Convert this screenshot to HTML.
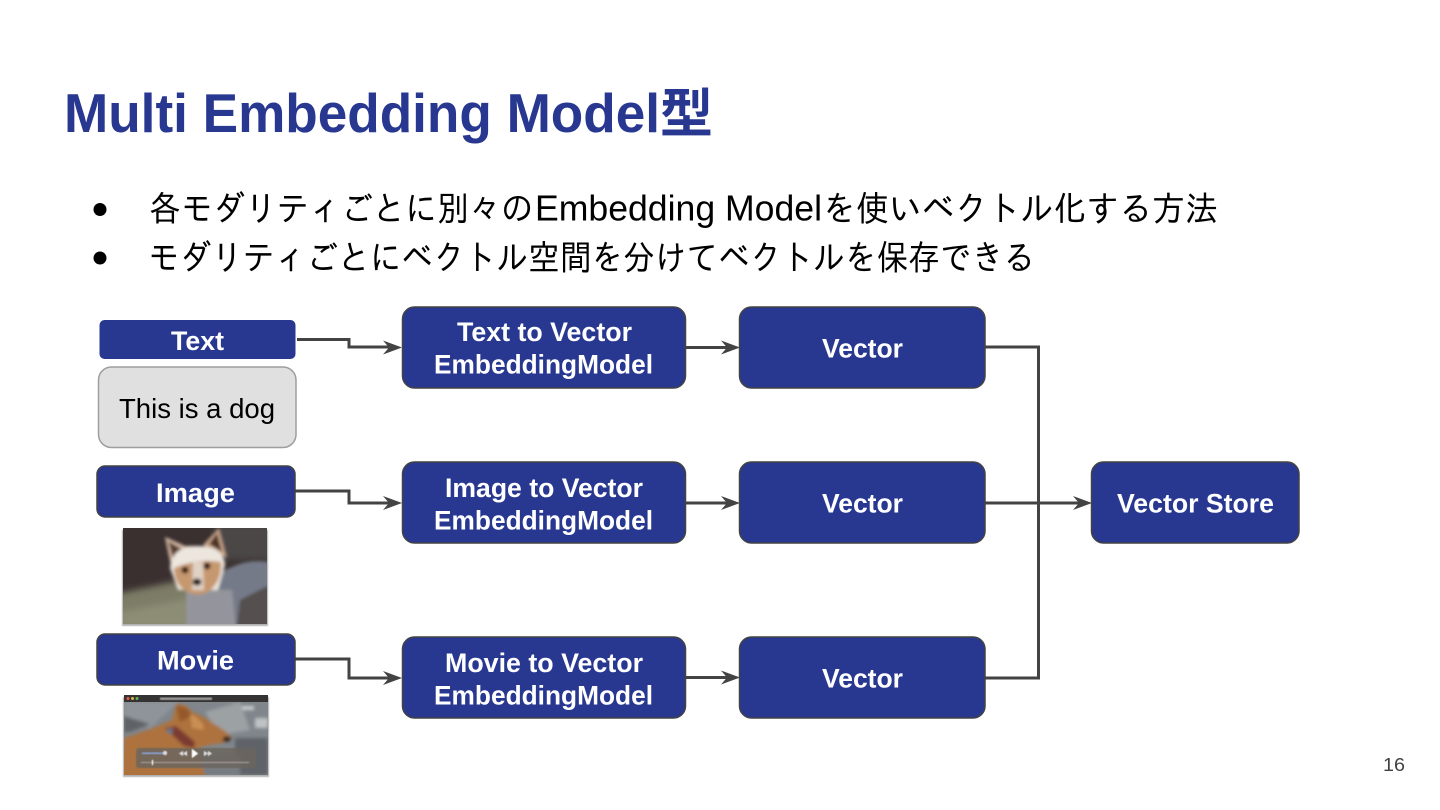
<!DOCTYPE html>
<html lang="ja"><head><meta charset="utf-8"><title>Multi Embedding Model型</title>
<style>
html,body{margin:0;padding:0;background:#fff;width:1440px;height:810px;overflow:hidden}
svg{display:block}
text{font-family:"Liberation Sans","IPAGothic","Noto Sans CJK JP",sans-serif}
.t{font-weight:700;fill:#fff;font-size:27px}
.b{font-size:35px;fill:#000;font-weight:400}
.l{font-size:36px;fill:#000;font-weight:400}
.n{fill:#283891;stroke:#434343;stroke-width:1.5}
.c{fill:none;stroke:#434343;stroke-width:3}
.h{fill:#434343}
</style></head><body>
<svg width="1440" height="810" viewBox="0 0 1440 810" xmlns="http://www.w3.org/2000/svg">
<defs>
<filter id="b1" x="-20%" y="-20%" width="140%" height="140%"><feGaussianBlur stdDeviation="1.700"/></filter>
<filter id="b2" x="-20%" y="-20%" width="140%" height="140%"><feGaussianBlur stdDeviation="3.500"/></filter>
<filter id="b3" x="-20%" y="-20%" width="140%" height="140%"><feGaussianBlur stdDeviation="0.600"/></filter>
<clipPath id="cd"><rect x="123" y="528" width="144" height="96"/></clipPath>
<clipPath id="cm"><rect x="124" y="695" width="144" height="80"/></clipPath>
</defs>

<!-- title -->
<text x="64" y="132" font-size="55" font-weight="700" fill="#283891" textLength="596" lengthAdjust="spacingAndGlyphs">Multi Embedding Model</text>
<text x="660" y="132" font-size="53" font-weight="700" fill="#283891" style="font-family:'Noto Sans CJK JP',sans-serif">型</text>

<!-- bullets -->
<circle cx="100" cy="209.500" r="6.500" fill="#000"/>
<circle cx="100" cy="258" r="6.500" fill="#000"/>
<text class="b" x="149" y="221" textLength="384" lengthAdjust="spacingAndGlyphs">各モダリティごとに別々の</text>
<text class="l" x="535" y="220.500" textLength="287" lengthAdjust="spacingAndGlyphs">Embedding Model</text>
<text class="b" x="823" y="221" textLength="395" lengthAdjust="spacingAndGlyphs">を使いベクトル化する方法</text>
<text class="b" x="148" y="270" textLength="887" lengthAdjust="spacingAndGlyphs">モダリティごとにベクトル空間を分けてベクトルを保存できる</text>

<!-- connectors -->
<path class="c" d="M297 339.500H349V347H396"/>
<path class="c" d="M295 491H349V503H396"/>
<path class="c" d="M295 659H349V678H396"/>
<path class="c" d="M685 347.500H733"/>
<path class="c" d="M685 503H733"/>
<path class="c" d="M685 677.500H733"/>
<path class="c" d="M985 347H1038.500V678H985"/>
<path class="c" d="M985 503H1085"/>
<path class="h" d="M402 347.500L383 340.500L389 347.500L383 354.500Z"/>
<path class="h" d="M402 503L383 496L389 503L383 510Z"/>
<path class="h" d="M402 678L383 671L389 678L383 685Z"/>
<path class="h" d="M740 347.500L721 340.500L727 347.500L721 354.500Z"/>
<path class="h" d="M740 503L721 496L727 503L721 510Z"/>
<path class="h" d="M740 677.500L721 670.500L727 677.500L721 684.500Z"/>
<path class="h" d="M1092 503L1073 496L1079 503L1073 510Z"/>

<!-- left labels -->
<rect x="99.500" y="320" width="196" height="39" rx="5" fill="#283891"/>
<text class="t" x="171" y="350" textLength="53" lengthAdjust="spacingAndGlyphs">Text</text>
<rect x="98.500" y="367" width="197.500" height="80.500" rx="13" fill="#e0e0e0" stroke="#9e9e9e" stroke-width="1.500"/>
<text x="119" y="418" font-size="28" fill="#000" textLength="156" lengthAdjust="spacingAndGlyphs">This is a dog</text>
<rect class="n" x="97" y="466" width="198" height="51" rx="8"/>
<text class="t" x="156" y="502" textLength="79" lengthAdjust="spacingAndGlyphs">Image</text>
<rect class="n" x="97" y="634" width="198" height="51" rx="8"/>
<text class="t" x="157" y="669.500" textLength="77" lengthAdjust="spacingAndGlyphs">Movie</text>

<!-- model nodes -->
<rect class="n" x="402.500" y="307" width="283" height="81" rx="12"/>
<text class="t" x="457" y="341" textLength="175" lengthAdjust="spacingAndGlyphs">Text to Vector</text>
<text class="t" x="434" y="373.500" textLength="219" lengthAdjust="spacingAndGlyphs">EmbeddingModel</text>
<rect class="n" x="402.500" y="462" width="283" height="81" rx="12"/>
<text class="t" x="445" y="497" textLength="198" lengthAdjust="spacingAndGlyphs">Image to Vector</text>
<text class="t" x="434" y="529.500" textLength="219" lengthAdjust="spacingAndGlyphs">EmbeddingModel</text>
<rect class="n" x="402.500" y="637" width="283" height="81" rx="12"/>
<text class="t" x="445" y="672" textLength="198" lengthAdjust="spacingAndGlyphs">Movie to Vector</text>
<text class="t" x="434" y="704.500" textLength="219" lengthAdjust="spacingAndGlyphs">EmbeddingModel</text>

<!-- vector nodes -->
<rect class="n" x="739.500" y="307" width="245.500" height="81" rx="12"/>
<text class="t" x="822" y="357.500" textLength="81" lengthAdjust="spacingAndGlyphs">Vector</text>
<rect class="n" x="739.500" y="462" width="245.500" height="81" rx="12"/>
<text class="t" x="822" y="512.500" textLength="81" lengthAdjust="spacingAndGlyphs">Vector</text>
<rect class="n" x="739.500" y="637" width="245.500" height="81" rx="12"/>
<text class="t" x="822" y="687.500" textLength="81" lengthAdjust="spacingAndGlyphs">Vector</text>
<rect class="n" x="1091.500" y="462" width="207.500" height="81" rx="12"/>
<text class="t" x="1117" y="512.500" textLength="157" lengthAdjust="spacingAndGlyphs">Vector Store</text>

<!-- dog photo -->
<rect x="122" y="530" width="146" height="96" fill="#000" opacity=".3" filter="url(#b3)"/>
<g clip-path="url(#cd)">
<rect x="123" y="528" width="144" height="96" fill="#3a3030"/>
<g filter="url(#b2)">
<rect x="215" y="524" width="60" height="36" fill="#4c4647"/>
<path d="M115 594L178 581L200 581V630H115Z" fill="#7d7c66"/>
<path d="M118 612L190 598V630H118Z" fill="#8d8c74"/>
<path d="M232 608L272 602V630H232Z" fill="#7c7a66"/>
</g>
<g filter="url(#b1)">
<path d="M222 572Q245 558 270 562V630H186L186 590Z" fill="#747a88"/>
<path d="M240 600Q255 592 270 585V630H236Z" fill="#55504f"/>
<path d="M186 590L232 590L236 630H186Z" fill="#94959c"/>
<path d="M165 537L185 546L200 546L172 570Z" fill="#d8bca6"/>
<path d="M219 528L227 558L203 545Z" fill="#c9a58a"/>
<path d="M168 541L182 549L173 559Z" fill="#563a2e"/>
<path d="M217 533L222 552L209 544Z" fill="#4e3226"/>
<path d="M170 568Q172 546 197 546Q224 546 225 565L218 590L178 590Z" fill="#ece6de"/>
<path d="M174 568Q197 558 221 562Q222 582 208 592Q196 598 184 590Q174 582 174 568Z" fill="#c69870"/>
<path d="M193 562L203 562L204 590L192 590Z" fill="#e0d2c4"/>
<circle cx="185" cy="570" r="3.500" fill="#2a1810"/>
<circle cx="207" cy="566" r="3.500" fill="#2a1810"/>
<ellipse cx="197" cy="582" rx="4.500" ry="3.500" fill="#151015"/>
</g>
</g>

<!-- movie thumbnail -->
<rect x="123" y="697" width="146" height="80" fill="#000" opacity=".3" filter="url(#b3)"/>
<g clip-path="url(#cm)">
<rect x="124" y="695" width="144" height="80" fill="#80868c"/>
<g filter="url(#b1)">
<path d="M124 702H178L150 728L124 716Z" fill="#8e949a"/>
<path d="M124 716L150 724L130 732L124 732Z" fill="#5f6468"/>
<rect x="228" y="706" width="26" height="4" fill="#c8ccce"/>
<rect x="255" y="718" width="13" height="10" fill="#c0c2c4"/>
<path d="M205 712L240 702L250 730L220 735Z" fill="#9ca1a4"/>
<path d="M235 738H268V775H235Z" fill="#5e6369"/>
<path d="M200 755H240V775H200Z" fill="#777c82"/>
<path d="M124 738Q150 730 172 720L176 704Q188 704 192 712Q204 716 214 724Q228 732 232 738Q226 744 214 744L198 748L206 780H120Z" fill="#ad723c"/>
<path d="M176 706Q188 706 192 716L180 722Z" fill="#96582c"/>
<path d="M190 714Q204 720 204 730L192 728Z" fill="#c98f52"/>
<path d="M165 728L176 726L195 742L194 748L184 746Z" fill="#7b3b30"/>
<circle cx="170" cy="731" r="3" fill="#607888"/>
<path d="M225 736L232 738L228 742L222 741Z" fill="#2e2620"/>
</g>
<g filter="url(#b3)">
<rect x="136" y="748" width="120" height="20" rx="3" fill="#6b645e" opacity=".85"/>
<rect x="142" y="752.500" width="24" height="1.500" fill="#8aa0d0"/>
<circle cx="165" cy="753" r="2" fill="#ddd"/>
<path d="M192 749L198 753.500L192 758Z" fill="#fff"/>
<path d="M183 751V756L179 753.500ZM187 751V756L183 753.500Z" fill="#ddd"/>
<path d="M204 751V756L208 753.500ZM208 751V756L212 753.500Z" fill="#ddd"/>
<rect x="141" y="762" width="108" height="1" fill="#a59e98"/>
<rect x="152" y="760" width="1" height="5" fill="#fff"/>
</g>
<rect x="124" y="695" width="144" height="7" fill="#353333"/>
<circle cx="128" cy="698.500" r="1.500" fill="#e8584f"/>
<circle cx="132.500" cy="698.500" r="1.500" fill="#e0b83f"/>
<circle cx="137" cy="698.500" r="1.500" fill="#5cba54"/>
<rect x="160" y="697.500" width="52" height="2.500" fill="#9a9a9a" filter="url(#b3)"/>
</g>

<!-- page number -->
<text x="1383" y="771" font-size="18" fill="#424242" textLength="22" lengthAdjust="spacingAndGlyphs">16</text>
</svg>
</body></html>
